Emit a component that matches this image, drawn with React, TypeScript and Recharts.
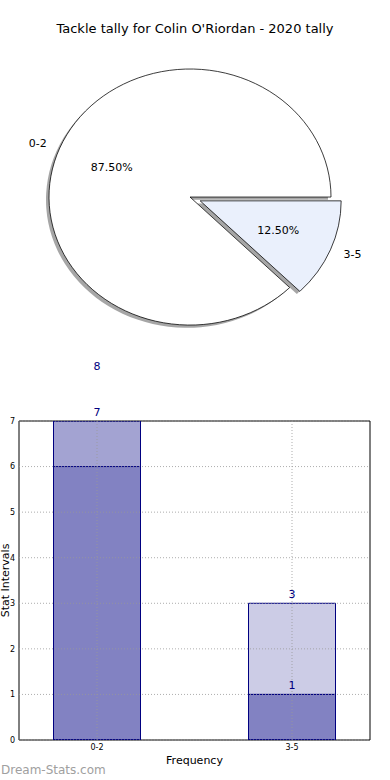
import React from 'react';
import {
  PieChart, Pie, Cell, BarChart, Bar, XAxis, YAxis, ReferenceLine, ReferenceArea, LabelList,
} from 'recharts';

// ---- data ----
const pieNames = ['0-2', '3-5'];
const pieValues = [7, 1];
const pieColors = ['#ffffff', '#eaf0fc'];

const categories = ['0-2', '3-5'];
const seriesTotal = [8, 3];
const seriesMid = [7, 1];
const seriesLow = [6, 1];
const yTicks = [0, 1, 2, 3, 4, 5, 6, 7];
const xTicks = [0, 1];

const FONT = '"DejaVu Sans", sans-serif';
const NAVY = '#000080';
const SY = 0.908; // vertical squash of the pie (ellipse)
const EXPLODE = 11;
const SHADOW = 3;

const total = pieValues.reduce((a, b) => a + b, 0);
const pieData = pieNames.map((n, i) => ({ name: n, value: pieValues[i] }));
const barData = categories.map((c, i) => ({
  x: i, name: c, a: seriesTotal[i], b: seriesMid[i], c: seriesLow[i],
}));

const CX = 190;
const CY = 217;
const R = 141;

// explode offset for the second slice along its mid angle
const midAngle2 = 360 * (pieValues[0] + pieValues[1] / 2) / total;
const ex = EXPLODE * Math.cos((midAngle2 * Math.PI) / 180);
const ey = -EXPLODE * Math.sin((midAngle2 * Math.PI) / 180);

const makeLabel = (show: number) => (props: any) => {
  if (props.index !== show) return null;
  const { cx, cy, midAngle, outerRadius } = props;
  const rad = (midAngle * Math.PI) / 180;
  const c = Math.cos(rad);
  const s = Math.sin(rad);
  const lx = cx + outerRadius * 1.1 * c;
  const ly = cy - outerRadius * 1.1 * s;
  const px = cx + outerRadius * 0.6 * c;
  const py = cy - outerRadius * 0.6 * s;
  const pct = ((pieValues[show] / total) * 100).toFixed(2) + '%';
  const tf = (x: number, y: number) => `translate(${x},${y}) scale(1,${1 / SY}) translate(${-x},${-y})`;
  return (
    <g>
      <text x={lx} y={ly} transform={tf(lx, ly)} textAnchor={c < 0 ? 'end' : 'start'} dominantBaseline="central"
        fontFamily={FONT} fontSize={11} fill="#000">{pieNames[show]}</text>
      <text x={px} y={py} transform={tf(px, py)} textAnchor="middle" dominantBaseline="central"
        fontFamily={FONT} fontSize={11} fill="#000">{pct}</text>
    </g>
  );
};

export default function App() {
  return (
    <div style={{ position: 'absolute', left: 0, top: 0, width: 390, height: 780, background: '#fff', overflow: 'hidden', fontFamily: FONT }}>
      <div style={{ position: 'absolute', left: 0, top: 21, width: 390, textAlign: 'center', fontSize: 13, color: '#000', fontFamily: FONT }}>
        Tackle tally for Colin O'Riordan - 2020 tally
      </div>
      <div style={{ position: 'absolute', left: 0, top: 0, width: 390, height: 400, transform: `scaleY(${SY})`, transformOrigin: '0 0' }}>
        <PieChart width={390} height={400} margin={{ top: 0, right: 0, bottom: 0, left: 0 }}>
          <Pie data={pieData} dataKey="value" nameKey="name" cx={CX - SHADOW} cy={CY + SHADOW} outerRadius={R}
            startAngle={0} endAngle={360} isAnimationActive={false} labelLine={false}>
            {pieData.map((d, i) => (
              <Cell key={d.name} fill={i === 0 ? '#4d4d4d' : 'none'} fillOpacity={0.5} stroke="none" />
            ))}
          </Pie>
          <Pie data={pieData} dataKey="value" nameKey="name" cx={CX + ex - SHADOW} cy={CY + ey + SHADOW} outerRadius={R}
            startAngle={0} endAngle={360} isAnimationActive={false} labelLine={false}>
            {pieData.map((d, i) => (
              <Cell key={d.name} fill={i === 1 ? '#4d4d4d' : 'none'} fillOpacity={0.5} stroke="none" />
            ))}
          </Pie>
          <Pie data={pieData} dataKey="value" nameKey="name" cx={CX} cy={CY} outerRadius={R}
            startAngle={0} endAngle={360} isAnimationActive={false} labelLine={false} label={makeLabel(0)}>
            {pieData.map((d, i) => (
              <Cell key={d.name} fill={i === 0 ? pieColors[0] : 'none'} stroke={i === 0 ? '#000' : 'none'} strokeWidth={0.8} />
            ))}
          </Pie>
          <Pie data={pieData} dataKey="value" nameKey="name" cx={CX + ex} cy={CY + ey} outerRadius={R}
            startAngle={0} endAngle={360} isAnimationActive={false} labelLine={false} label={makeLabel(1)}>
            {pieData.map((d, i) => (
              <Cell key={d.name} fill={i === 1 ? pieColors[1] : 'none'} stroke={i === 1 ? '#000' : 'none'} strokeWidth={0.8} />
            ))}
          </Pie>
        </PieChart>
      </div>

      <div style={{ position: 'absolute', left: 0, top: 350, width: 390, height: 430 }}>
        <BarChart width={390} height={430} data={barData} margin={{ top: 71, right: 20, bottom: 0, left: 0 }}>
          <XAxis xAxisId="a" type="number" dataKey="x" domain={[-0.4, 1.4]} ticks={xTicks} allowDataOverflow
            tickFormatter={(v: number) => categories[v] ?? ''} axisLine={false} tickLine={false} tickSize={2} tickMargin={2}
            height={40} tick={{ fontSize: 8, fill: '#000', fontFamily: FONT }}
            label={{
              content: (p: any) => {
                const vb = p.viewBox || {};
                return (
                  <text x={vb.x + vb.width / 2} y={vb.y + 20} textAnchor="middle" dominantBaseline="central"
                    fontFamily={FONT} fontSize={11} fill="#000">Frequency</text>
                );
              },
            }} />
          <XAxis xAxisId="b" type="number" dataKey="x" domain={[-0.4, 1.4]} allowDataOverflow hide />
          <XAxis xAxisId="c" type="number" dataKey="x" domain={[-0.4, 1.4]} allowDataOverflow hide />
          <YAxis type="number" domain={[0, 7]} ticks={yTicks} allowDataOverflow width={19} axisLine={false} tickLine={false}
            tickSize={3} tickMargin={1} tick={{ fontSize: 8, fill: '#000', fontFamily: FONT }}
            label={{
              content: (p: any) => {
                const vb = p.viewBox || {};
                const x = vb.x + 5;
                const y = vb.y + vb.height / 2;
                return (
                  <text x={x} y={y} transform={`rotate(-90,${x},${y})`} textAnchor="middle" dominantBaseline="central"
                    fontFamily={FONT} fontSize={11} fill="#000">Stat Intervals</text>
                );
              },
            }} />
          <Bar xAxisId="a" dataKey="a" barSize={87} fill={NAVY} fillOpacity={0.2} stroke={NAVY} strokeWidth={1} isAnimationActive={false}>
            <LabelList dataKey="a" position="top" fill={NAVY} fontSize={11} fontFamily={FONT} />
          </Bar>
          <Bar xAxisId="b" dataKey="b" barSize={87} fill={NAVY} fillOpacity={0.2} stroke={NAVY} strokeWidth={1} isAnimationActive={false}>
            <LabelList dataKey="b" position="top" fill={NAVY} fontSize={11} fontFamily={FONT} />
          </Bar>
          <Bar xAxisId="c" dataKey="c" barSize={87} fill={NAVY} fillOpacity={0.2} stroke={NAVY} strokeWidth={1} isAnimationActive={false} />
          {yTicks.map((t) => (
            <ReferenceLine key={'y' + t} xAxisId="a" y={t} stroke="#999" strokeOpacity={0.8} strokeDasharray="1 2" strokeWidth={1} />
          ))}
          {xTicks.map((t) => (
            <ReferenceLine key={'x' + t} xAxisId="a" x={t} stroke="#999" strokeOpacity={0.8} strokeDasharray="1 2" strokeWidth={1} />
          ))}
          <ReferenceArea xAxisId="a" x1={-0.4} x2={1.4} y1={0} y2={7} fill="none" stroke="#000" strokeWidth={1} ifOverflow="visible" />
        </BarChart>
      </div>

      <div style={{ position: 'absolute', left: 1, top: 762, fontSize: 12, color: '#a0a0a0', fontFamily: FONT, lineHeight: '16px' }}>
        Dream-Stats.com
      </div>
    </div>
  );
}
